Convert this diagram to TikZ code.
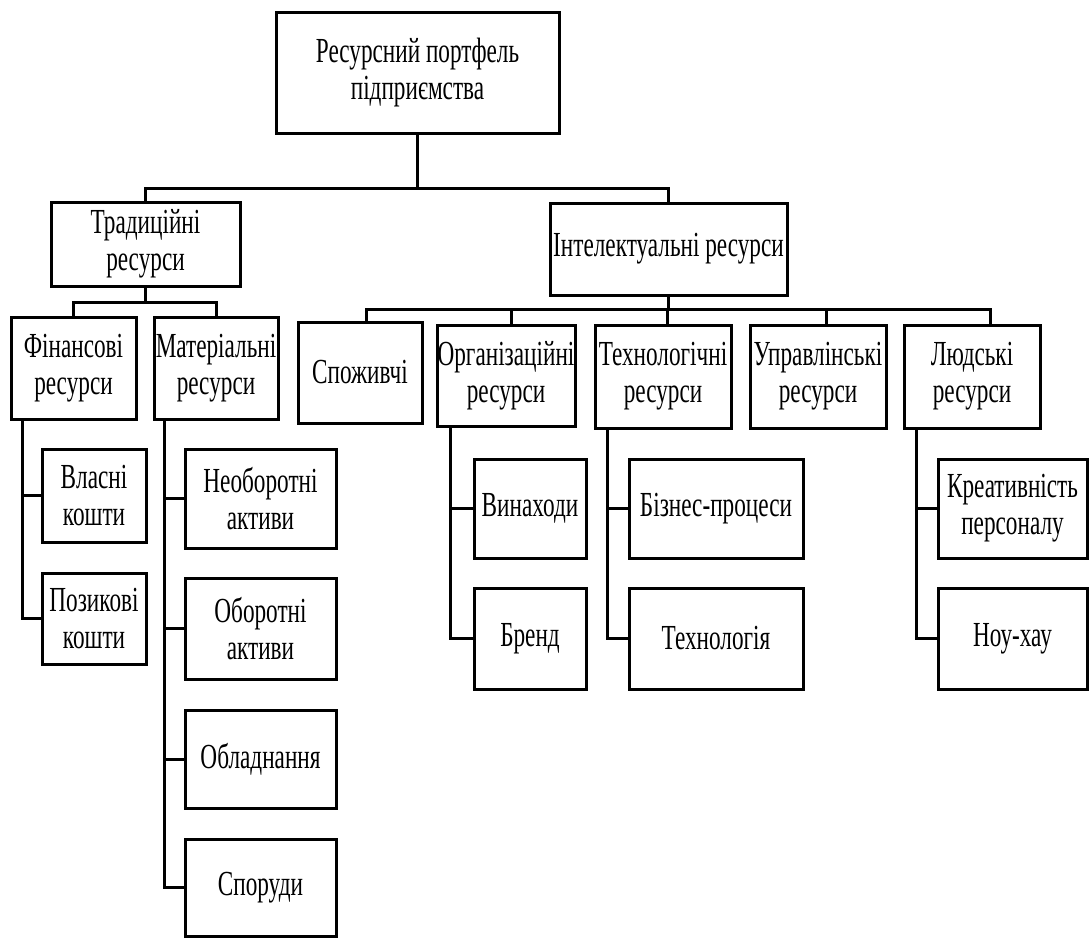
\documentclass[tikz,border=0pt]{standalone}
\usepackage{fontspec}
\setmainfont{Liberation Serif}[FakeStretch=0.66]
\begin{document}
\begin{tikzpicture}[x=0.5pt,y=-0.5pt,
  bx/.style={draw=black, line width=1.5pt, align=center, inner sep=0pt,
    font=\fontsize{17.6}{18.4}\selectfont},
  ln/.style={draw=black, line width=1.5pt}]
\useasboundingbox (0,0) rectangle (1090,938);
% level 0
\node[bx,minimum width=141.5pt,minimum height=60.5pt] (root) at (417.5,72.5) {Ресурсний портфель\\підприємства};
% level 1
\node[bx,minimum width=94.5pt,minimum height=42pt] (trad) at (145.5,244) {Традиційні\\ресурси};
\node[bx,minimum width=118.5pt,minimum height=46pt] (intel) at (668.5,249) {Інтелектуальні ресурси};
% level 2
\node[bx,minimum width=62.5pt,minimum height=51pt] (fin) at (73.5,368) {Фінансові\\ресурси};
\node[bx,minimum width=62pt,minimum height=51pt] (mat) at (216,368) {Матеріальні\\ресурси};
\node[bx,minimum width=62pt,minimum height=50.5pt] (spoz) at (360,372.5) {Споживчі};
\node[bx,minimum width=69pt,minimum height=50.5pt] (org) at (506,375.5) {Організаційні\\ресурси};
\node[bx,minimum width=68pt,minimum height=51.5pt] (tech) at (663,376.5) {Технологічні\\ресурси};
\node[bx,minimum width=68pt,minimum height=51.5pt] (upr) at (818,376.5) {Управлінські\\ресурси};
\node[bx,minimum width=68pt,minimum height=51.5pt] (lud) at (972,376.5) {Людські\\ресурси};
% level 3
\node[bx,minimum width=52pt,minimum height=46.5pt] (vlas) at (94,495.5) {Власні\\кошти};
\node[bx,minimum width=52pt,minimum height=45.5pt] (poz) at (94,618.5) {Позикові\\кошти};
\node[bx,minimum width=75.5pt,minimum height=49.5pt] (neob) at (260.5,498.5) {Необоротні\\активи};
\node[bx,minimum width=75.5pt,minimum height=50.5pt] (obor) at (260.5,628.5) {Оборотні\\активи};
\node[bx,minimum width=75.5pt,minimum height=49pt] (obl) at (260.5,759) {Обладнання};
\node[bx,minimum width=75.5pt,minimum height=48.5pt] (spor) at (260.5,887.5) {Споруди};
\node[bx,minimum width=56pt,minimum height=49.5pt] (vyn) at (530,508.5) {Винаходи};
\node[bx,minimum width=56pt,minimum height=50.5pt] (brend) at (530,638.5) {Бренд};
\node[bx,minimum width=87pt,minimum height=49.5pt] (bizn) at (716,508.5) {Бізнес-процеси};
\node[bx,minimum width=87pt,minimum height=50.5pt] (techn) at (716,638.5) {Технологія};
\node[bx,minimum width=74.5pt,minimum height=49.5pt] (kreat) at (1012.5,508.5) {Креативність\\персоналу};
\node[bx,minimum width=74.5pt,minimum height=50.5pt] (nou) at (1012.5,638.5) {Ноу-хау};
% junctions
\coordinate (j1) at (417.5,188);
\coordinate (j2) at (145.5,302);
\coordinate (j3) at (668.5,309);
% connectors level 0-1
\draw[ln] (root.south) -- (j1);
\draw[ln] (trad.north) |- (j1) -| (intel.north);
% connectors trad
\draw[ln] (trad.south) -- (j2);
\draw[ln] (fin.north) |- (j2) -| (mat.north);
% connectors intel
\draw[ln] (intel.south) -- (j3);
\draw[ln] ([xshift=3pt]spoz.north) |- (j3) -| ([xshift=9pt]lud.north);
\draw[ln] ([xshift=2.5pt]org.north) -- ([xshift=2.5pt]org.north |- j3);
\draw[ln] ([xshift=2pt]tech.north) -- ([xshift=2pt]tech.north |- j3);
\draw[ln] ([xshift=4pt]upr.north) -- ([xshift=4pt]upr.north |- j3);
% spines
\coordinate (sf) at ([xshift=6.5pt]fin.south west);
\draw[ln] (sf) |- (vlas.west);
\draw[ln] (sf) |- (poz.west);
\coordinate (sm) at ([xshift=6pt]mat.south west);
\draw[ln] (sm) |- (neob.west);
\draw[ln] (sm) |- (obor.west);
\draw[ln] (sm) |- (obl.west);
\draw[ln] (sm) |- (spor.west);
\coordinate (so) at ([xshift=7.5pt]org.south west);
\draw[ln] (so) |- (vyn.west);
\draw[ln] (so) |- (brend.west);
\coordinate (st) at ([xshift=7pt]tech.south west);
\draw[ln] (st) |- (bizn.west);
\draw[ln] (st) |- (techn.west);
\coordinate (sl) at ([xshift=7pt]lud.south west);
\draw[ln] (sl) |- (kreat.west);
\draw[ln] (sl) |- (nou.west);
\end{tikzpicture}
\end{document}
